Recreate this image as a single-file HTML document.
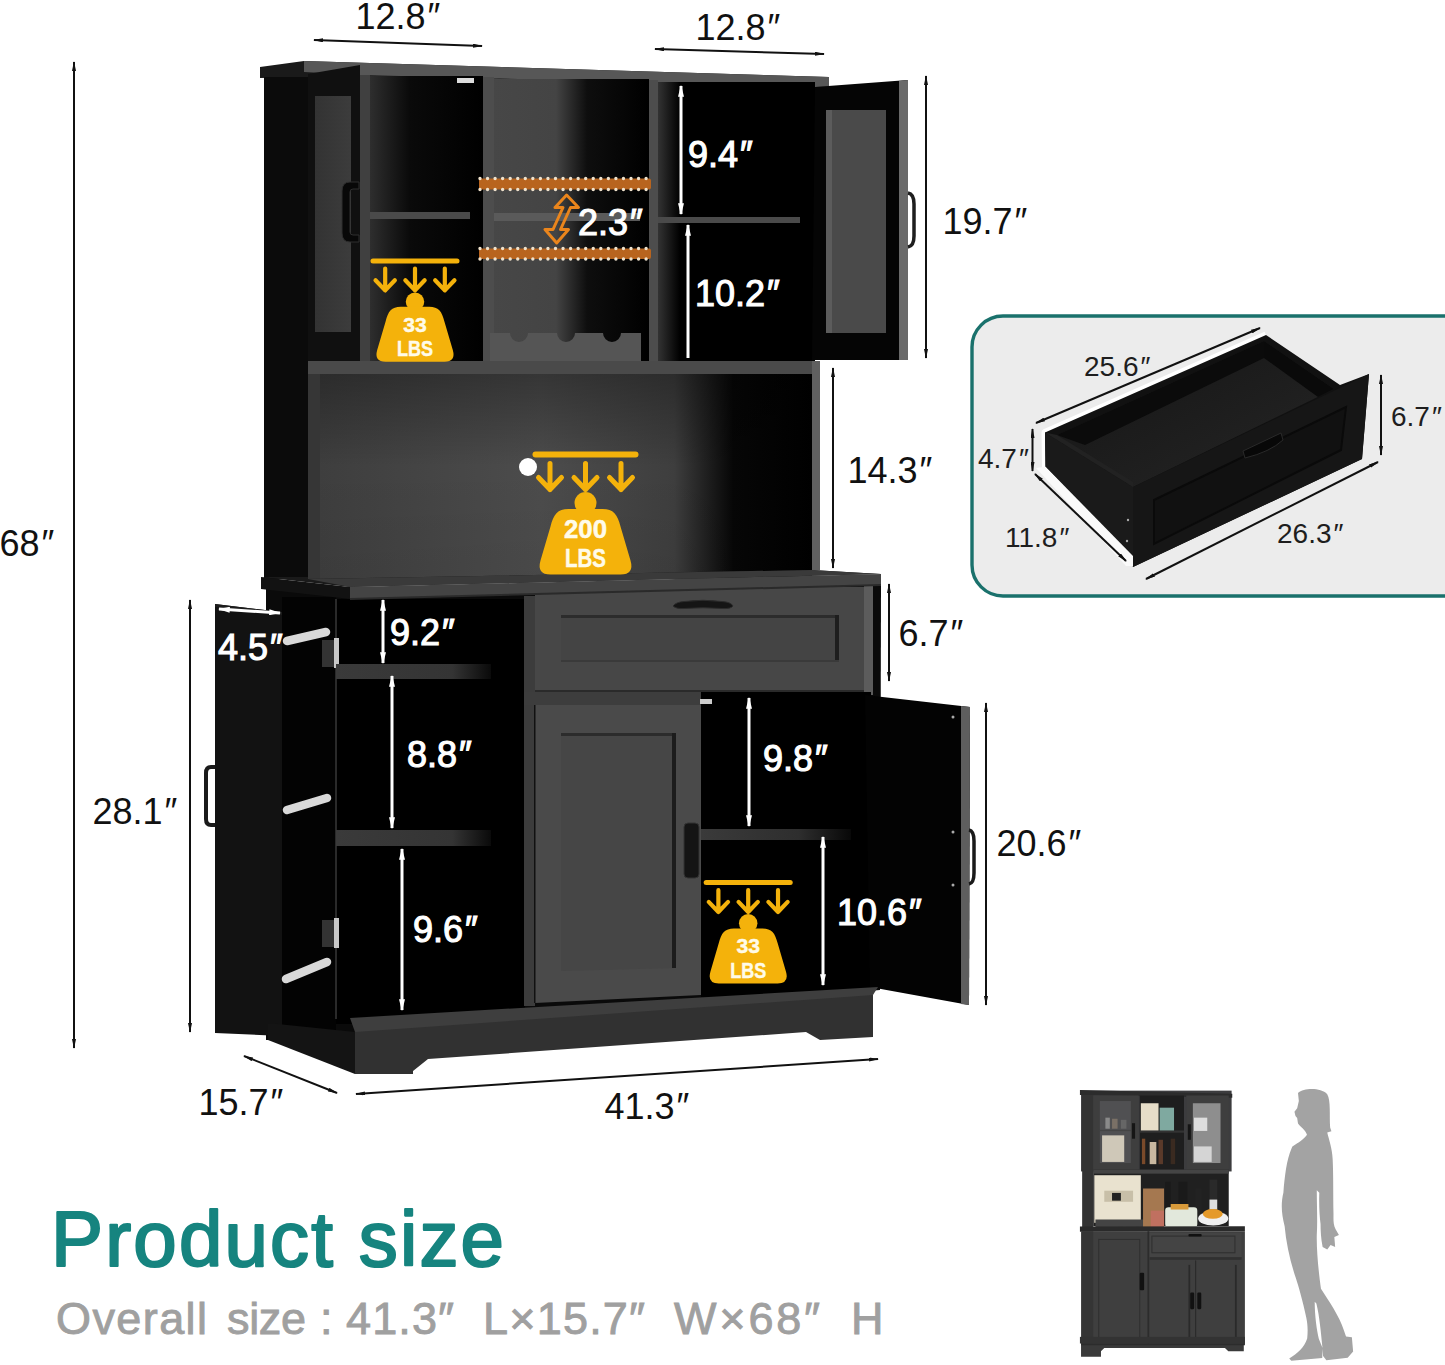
<!DOCTYPE html>
<html><head><meta charset="utf-8">
<style>
html,body{margin:0;padding:0;background:#fff;}
body{width:1445px;height:1365px;overflow:hidden;}
svg{display:block;}
text{font-family:"Liberation Sans",sans-serif;}
.dk{fill:#111;font-size:36px;}
.wt{fill:#fff;stroke:#fff;stroke-width:1.1px;font-size:36px;}
</style></head><body>
<svg width="1445" height="1365" viewBox="0 0 1445 1365">
<defs>
  <linearGradient id="gCtrV" x1="0" x2="0" y1="0" y2="1"><stop offset="0" stop-color="#000" stop-opacity="0.3"/><stop offset="0.45" stop-color="#000" stop-opacity="0"/><stop offset="1" stop-color="#000" stop-opacity="0.05"/></linearGradient>
  <linearGradient id="gCtr" x1="0" x2="1" y1="0" y2="0">
    <stop offset="0" stop-color="#3e3e3e"/><stop offset="0.45" stop-color="#4c4c4c"/><stop offset="0.72" stop-color="#3e3e3e"/><stop offset="0.84" stop-color="#060606"/><stop offset="1" stop-color="#000"/>
  </linearGradient>
  <linearGradient id="gIntL" x1="0" x2="1" y1="0" y2="0">
    <stop offset="0" stop-color="#2e2e2e"/><stop offset="0.35" stop-color="#0a0a0a"/><stop offset="1" stop-color="#000"/>
  </linearGradient>
  <linearGradient id="gIntC" x1="0" x2="1" y1="0" y2="0">
    <stop offset="0" stop-color="#474747"/><stop offset="0.4" stop-color="#444"/><stop offset="0.6" stop-color="#0e0e0e"/><stop offset="1" stop-color="#000"/>
  </linearGradient>
  <linearGradient id="gWallR" x1="0" x2="1" y1="0" y2="0"><stop offset="0" stop-color="#333"/><stop offset="1" stop-color="#000"/></linearGradient>
  <linearGradient id="gGlass" x1="0" x2="1" y1="0" y2="0">
    <stop offset="0" stop-color="#333"/><stop offset="1" stop-color="#3c3c3c"/>
  </linearGradient>
  <marker id="ab" viewBox="0 0 10 4" refX="9" refY="2" markerWidth="5" markerHeight="2" orient="auto-start-reverse">
    <path d="M0,0 L10,2 L0,4 z" fill="#111"/>
  </marker>
  <marker id="aw" viewBox="0 0 10 5" refX="9" refY="2.5" markerWidth="4" markerHeight="2" orient="auto-start-reverse">
    <path d="M0,0 L10,2.5 L0,5 z" fill="#fff"/>
  </marker>
</defs>

<!-- ============ HUTCH ============ -->
<g id="hutch">
  <!-- cap & top -->
  <polygon points="260,67 304,61 829,77 829,87 370,76 260,78" fill="#1a1a1a"/>
  <polygon points="304,61 829,77 829,87 360,75 304,72" fill="#575757"/>
  <!-- left side panel -->
  <rect x="264" y="77" width="45" height="502" fill="#0b0b0b"/>
  <!-- left open door -->
  <polygon points="308,74 360,65 360,361 308,361" fill="#101010"/>
  <rect x="315" y="96" width="36" height="236" fill="url(#gGlass)"/>
  <path d="M359,182 h-9 q-8,0 -8,9 v42 q0,9 8,9 h9 v-7 h-6 q-3,0 -3,-3 v-40 q0,-3 3,-3 h6 z" fill="#080808" stroke="#2e2e2e" stroke-width="1"/>
  <!-- left post -->
  <rect x="360" y="75" width="10" height="286" fill="#404040"/>
  <!-- left compartment -->
  <rect x="370" y="76" width="113" height="285" fill="url(#gIntL)"/>
  <rect x="370" y="212" width="100" height="7" fill="#4a4a4a"/>
  <rect x="457" y="78" width="17" height="5" fill="#ddd"/>
  <!-- center divider -->
  <rect x="483" y="77" width="11" height="284" fill="#4d4d4d"/>
  <!-- center compartment -->
  <rect x="494" y="79" width="155" height="282" fill="url(#gIntC)"/>
  <rect x="494" y="213" width="146" height="8" fill="#5a5a5a"/>
  <!-- wine rack -->
  <path d="M490,333 H641 V361 H490 Z M510,333 a9,9 0 0 0 18,0 Z M557,333 a9,9 0 0 0 18,0 Z M603,333 a9,9 0 0 0 18,0 Z" fill="#555" fill-rule="evenodd"/>
  <!-- right divider -->
  <rect x="649" y="80" width="9" height="281" fill="#4d4d4d"/>
  <!-- right compartment -->
  <rect x="658" y="82" width="157" height="279" fill="#000"/>
  <rect x="658" y="82" width="22" height="279" fill="url(#gWallR)"/>
  <rect x="658" y="217" width="142" height="6" fill="#4a4a4a"/>
  <!-- right open door -->
  <polygon points="815,87 908,80 908,360 812,360" fill="#050505"/>
  <rect x="826" y="110" width="60" height="223" fill="#4a4a4a"/>
  <rect x="826" y="110" width="6" height="223" fill="#5c5c5c"/>
  <polygon points="899,81 908,80 908,360 899,360" fill="#6a6a6a"/>
  <path d="M908,193 q6,1 6,11 v32 q0,10 -6,11" fill="none" stroke="#1e1e1e" stroke-width="3.5"/>
</g>

<!-- ============ MIDDLE ============ -->
<g id="middle">
  <rect x="308" y="361" width="45" height="218" fill="#151515"/>
  <rect x="308" y="361" width="504" height="13" fill="#4a4a4a"/>
  <rect x="308" y="374" width="12" height="205" fill="#363636"/>
  <rect x="320" y="374" width="492" height="205" fill="url(#gCtr)"/>
  <rect x="320" y="374" width="492" height="205" fill="url(#gCtrV)"/>
  <rect x="812" y="361" width="8" height="209" fill="#606060"/>
  <circle cx="528" cy="467" r="9" fill="#fff"/>
</g>

<!-- ============ BASE ============ -->
<g id="base">
  <polygon points="266,589 881,585 880,990 355,1034 268,1040 266,1040" fill="#0a0a0a"/>
  <!-- dark base side behind door -->
  <polygon points="266,589 350,599 335,1040 266,1040" fill="#0a0a0a"/>
  <!-- left open door (side face) -->
  <polygon points="215,604 282,612 282,1036 215,1033" fill="#121212"/>
  <polygon points="215,604 282,612 282,615 215,607" fill="#1c1c1c"/>
  <path d="M215,767 h-4 q-5,0 -5,6 v46 q0,6 5,6 h4" fill="none" stroke="#1a1a1a" stroke-width="4"/>
  <!-- door inner side -->
  <polygon points="282,597 336,597 336,1040 282,1036" fill="#030303"/>
  <!-- base side below -->
  <polygon points="268,1023 355,1032 355,1074 268,1040" fill="#141414"/>
  <!-- rods -->
  <defs>
    <linearGradient id="gRod" x1="0" x2="0" y1="0" y2="1"><stop offset="0" stop-color="#f0f0f0"/><stop offset="1" stop-color="#bdbdbd"/></linearGradient>
  </defs>
  <line x1="287" y1="641" x2="326" y2="632" stroke="#d9d9d9" stroke-width="8.5" stroke-linecap="round"/>
  <line x1="287" y1="810" x2="327" y2="798" stroke="#d9d9d9" stroke-width="8.5" stroke-linecap="round"/>
  <line x1="286" y1="979" x2="327" y2="962" stroke="#d9d9d9" stroke-width="8.5" stroke-linecap="round"/>
  <!-- left compartment -->
  <rect x="336" y="599" width="189" height="425" fill="#000"/>
  <rect x="335" y="599" width="2" height="420" fill="#2a2a2a"/>
  <rect x="322" y="640" width="12" height="27" fill="#333"/>
  <rect x="334" y="638" width="5" height="30" fill="#c8c8c8"/>
  <rect x="322" y="920" width="12" height="27" fill="#333"/>
  <rect x="334" y="918" width="5" height="30" fill="#c8c8c8"/>
  <defs>
    <linearGradient id="gShelf" x1="0" x2="1" y1="0" y2="0"><stop offset="0" stop-color="#3a3a3a"/><stop offset="0.75" stop-color="#343434"/><stop offset="1" stop-color="#0a0a0a"/></linearGradient>
  </defs>
  <rect x="336" y="664" width="155" height="15" fill="url(#gShelf)"/>
  <rect x="336" y="830" width="155" height="16" fill="url(#gShelf)"/>
  <rect x="483" y="591" width="17" height="5" fill="#ccc"/>
  <!-- frame -->
  <rect x="524" y="596" width="11" height="410" fill="#3c3c3c"/>
  <rect x="524" y="692" width="346" height="13" fill="#3d3d3d"/>
  <rect x="864" y="585" width="9" height="110" fill="#5c5c5c"/>
  <!-- drawer -->
  <rect x="535" y="587" width="329" height="105" fill="#474747"/>
  <rect x="561" y="615" width="278" height="47" fill="#444"/>
  <rect x="561" y="615" width="278" height="3" fill="#2c2c2c"/>
  <rect x="835" y="615" width="4" height="45" fill="#1e1e1e"/>
  <rect x="561" y="660" width="278" height="2" fill="#3a3a3a"/>
  <rect x="535" y="690" width="329" height="2" fill="#2a2a2a"/>
  <path d="M673,606 Q676,602 684,601.5 Q703,599 722,601.5 Q731,602 733,606 Q731,609 722,608.5 Q703,607 684,608.5 Q676,609 673,606 Z" fill="#151515" stroke="#2c2c2c" stroke-width="1"/>
  <!-- door -->
  <polygon points="535,705 701,705 701,995 535,1003" fill="#4a4a4a"/>
  <polygon points="561,733 676,733 676,968 561,971" fill="#464646"/>
  <rect x="561" y="733" width="115" height="3" fill="#2c2c2c"/>
  <rect x="672" y="733" width="4" height="235" fill="#1c1c1c"/>
  <rect x="534" y="705" width="1.5" height="298" fill="#111"/>
  <rect x="684" y="823" width="15" height="55" rx="4" fill="#141414" stroke="#333" stroke-width="1"/>
  <!-- right compartment -->
  <rect x="701" y="692" width="170" height="305" fill="#000"/>
  <defs>
    <linearGradient id="gShelfR" x1="0" x2="1" y1="0" y2="0"><stop offset="0" stop-color="#3a3a3a"/><stop offset="0.65" stop-color="#2e2e2e"/><stop offset="1" stop-color="#080808"/></linearGradient>
  </defs>
  <rect x="701" y="829" width="150" height="11" fill="url(#gShelfR)"/>
  <rect x="700" y="699" width="12" height="5" fill="#ccc"/>
  <!-- right open door -->
  <polygon points="865,695 970,707 969,1005 870,987" fill="#030303"/>
  <polygon points="961,706 970,707 969,1005 961,1004" fill="#5e5e5e"/>
  <circle cx="953" cy="717" r="1.5" fill="#aaa"/>
  <circle cx="953" cy="832" r="1.5" fill="#aaa"/>
  <circle cx="953" cy="885" r="1.5" fill="#aaa"/>
  <path d="M969,830 q5,1 5,11 v32 q0,10 -5,11" fill="none" stroke="#1a1a1a" stroke-width="3.5"/>
  <!-- plinth -->
  <polygon points="355,1029 873,992 873,1037 820,1040 806,1032 428,1059 413,1071 413,1074 355,1074" fill="#313131"/>
  <polygon points="350,1018 878,987 873,995 355,1032" fill="#3e3e3e"/>
  
</g>


<!-- ============ COUNTER TOP ============ -->
<polygon points="261,577 308,577 308,579 812,570 881,574 350,587" fill="#1a1a1a"/>
<polygon points="308,579 812,570 881,574 350,587" fill="#3a3a3a"/>
<polygon points="261,577 350,587 350,599 261,589" fill="#121212"/>
<polygon points="350,587 881,574 881,585 350,599" fill="#444"/>
<polygon points="350,598 881,584 881,586 350,600" fill="#2a2a2a"/>

<!-- ============ WEIGHT ICONS ============ -->
<defs>
  <g id="wIcon">
    <line x1="-50" y1="0" x2="50" y2="0" stroke="#f4b20b" stroke-width="6" stroke-linecap="round"/>
    <g stroke="#f4b20b" stroke-width="5" fill="none" stroke-linecap="round" stroke-linejoin="round">
      <path d="M-35.5,9 V35 M-47,23 L-35.5,35 L-24,23"/>
      <path d="M0,9 V35 M-11.5,23 L0,35 L11.5,23"/>
      <path d="M35.5,9 V35 M24,23 L35.5,35 L47,23"/>
    </g>
    <circle cx="0" cy="48.5" r="11" fill="#f4b20b"/>
    <path d="M-17,54.5 H17 C28,54.5 32,60 35,72 L45,106 Q49,120 35,120 H-35 Q-49,120 -45,106 L-35,72 C-32,60 -28,54.5 -17,54.5 Z" fill="#f4b20b"/>
  </g>
</defs>
<g transform="translate(585.5,454.5)">
  <use href="#wIcon"/>
  <text x="-21.5" y="83.5" fill="#fffbe8" stroke="#fffbe8" stroke-width="0.5" font-size="25" font-weight="bold" textLength="43" lengthAdjust="spacingAndGlyphs">200</text>
  <text x="-20.5" y="112.5" fill="#fffbe8" stroke="#fffbe8" stroke-width="0.5" font-size="26" font-weight="bold" textLength="41" lengthAdjust="spacingAndGlyphs">LBS</text>
</g>
<g transform="translate(415,261) scale(0.84)">
  <use href="#wIcon"/>
  <text x="-14" y="84" fill="#fffbe8" stroke="#fffbe8" stroke-width="0.5" font-size="25" font-weight="bold" textLength="28" lengthAdjust="spacingAndGlyphs">33</text>
  <text x="-21.5" y="113" fill="#fffbe8" stroke="#fffbe8" stroke-width="0.5" font-size="26" font-weight="bold" textLength="43" lengthAdjust="spacingAndGlyphs">LBS</text>
</g>
<g transform="translate(748.2,882.6) scale(0.84)">
  <use href="#wIcon"/>
  <text x="-14" y="84" fill="#fffbe8" stroke="#fffbe8" stroke-width="0.5" font-size="25" font-weight="bold" textLength="28" lengthAdjust="spacingAndGlyphs">33</text>
  <text x="-21.5" y="113" fill="#fffbe8" stroke="#fffbe8" stroke-width="0.5" font-size="26" font-weight="bold" textLength="43" lengthAdjust="spacingAndGlyphs">LBS</text>
</g>

<!-- ============ ORANGE PEGS ============ -->
<g>
  <rect x="479" y="178.5" width="172" height="11" rx="2" fill="#b8641e"/>
  <rect x="479" y="248.5" width="172" height="10.5" rx="2" fill="#b8641e"/>
  <g stroke="#f0e2cc" stroke-width="3.4" stroke-linecap="round" stroke-dasharray="0 7.55">
    <line x1="480" y1="178.5" x2="651" y2="178.5"/>
    <line x1="480" y1="189.5" x2="651" y2="189.5"/>
    <line x1="480" y1="248.5" x2="651" y2="248.5"/>
    <line x1="480" y1="259" x2="651" y2="259"/>
  </g>
  <g fill="none" stroke="#ea851c" stroke-width="3" stroke-linejoin="round">
    <path d="M566.6,195 L578.5,207.5 L570.5,207.5 L560.5,229.5 L568.5,229.5 L556.7,243 L545,229.5 L553,229.5 L563,207.5 L555,207.5 Z"/>
  </g>
</g>

<!-- ============ WHITE DIMENSIONS INSIDE ============ -->
<g stroke="#fff" stroke-width="3" fill="none">
  <line x1="681" y1="86" x2="681" y2="214" marker-start="url(#aw)" marker-end="url(#aw)"/>
  <line x1="688" y1="225" x2="688" y2="358" marker-start="url(#aw)"/>
  <line x1="383" y1="600" x2="383" y2="663" marker-start="url(#aw)" marker-end="url(#aw)"/>
  <line x1="392" y1="676" x2="392" y2="828" marker-start="url(#aw)" marker-end="url(#aw)"/>
  <line x1="402" y1="849" x2="402" y2="1010" marker-start="url(#aw)" marker-end="url(#aw)"/>
  <line x1="749" y1="698" x2="749" y2="826" marker-start="url(#aw)" marker-end="url(#aw)"/>
  <line x1="823" y1="837" x2="823" y2="985" marker-start="url(#aw)" marker-end="url(#aw)"/>
  <line x1="219" y1="609" x2="280" y2="613" marker-start="url(#aw)" marker-end="url(#aw)"/>
</g>
<g class="wt" transform="translate(-2,0)">
  <text x="690" y="167">9.4<tspan dx="2">″</tspan></text>
  <text x="697" y="306">10.2<tspan dx="2">″</tspan></text>
  <text x="580" y="235">2.3<tspan dx="2">″</tspan></text>
  <text x="220" y="660">4.5<tspan dx="2">″</tspan></text>
  <text x="392" y="645">9.2<tspan dx="2">″</tspan></text>
  <text x="409" y="767">8.8<tspan dx="2">″</tspan></text>
  <text x="415" y="942">9.6<tspan dx="2">″</tspan></text>
  <text x="765" y="771">9.8<tspan dx="2">″</tspan></text>
  <text x="839" y="925">10.6<tspan dx="2">″</tspan></text>
</g>

<!-- ============ BLACK DIMENSIONS ============ -->
<g stroke="#111" stroke-width="2" fill="none">
  <line x1="74" y1="62" x2="74" y2="1048" marker-start="url(#ab)" marker-end="url(#ab)"/>
  <line x1="190" y1="600" x2="190" y2="1032" marker-start="url(#ab)" marker-end="url(#ab)"/>
  <line x1="314" y1="40" x2="482" y2="46" marker-start="url(#ab)" marker-end="url(#ab)"/>
  <line x1="655" y1="49" x2="824" y2="54" marker-start="url(#ab)" marker-end="url(#ab)"/>
  <line x1="926" y1="76" x2="926" y2="358" marker-start="url(#ab)" marker-end="url(#ab)"/>
  <line x1="833" y1="368" x2="833" y2="568" marker-start="url(#ab)" marker-end="url(#ab)"/>
  <line x1="889" y1="584" x2="889" y2="681" marker-start="url(#ab)" marker-end="url(#ab)"/>
  <line x1="986" y1="703" x2="986" y2="1005" marker-start="url(#ab)" marker-end="url(#ab)"/>
  <line x1="244" y1="1056" x2="337" y2="1093" marker-start="url(#ab)" marker-end="url(#ab)"/>
  <line x1="356" y1="1094" x2="878" y2="1059" marker-start="url(#ab)" marker-end="url(#ab)"/>
</g>
<g class="dk" transform="translate(-2.5,1)">
  <text x="2" y="555">68<tspan dx="2">″</tspan></text>
  <text x="95" y="823">28.1<tspan dx="2">″</tspan></text>
  <text x="358" y="28">12.8<tspan dx="2">″</tspan></text>
  <text x="698" y="39">12.8<tspan dx="2">″</tspan></text>
  <text x="945" y="233">19.7<tspan dx="2">″</tspan></text>
  <text x="850" y="482">14.3<tspan dx="2">″</tspan></text>
  <text x="901" y="645">6.7<tspan dx="2">″</tspan></text>
  <text x="999" y="855">20.6<tspan dx="2">″</tspan></text>
  <text x="201" y="1114">15.7<tspan dx="2">″</tspan></text>
  <text x="607" y="1118">41.3<tspan dx="2">″</tspan></text>
</g>

<!-- ============ DRAWER BOX ============ -->
<g id="drawerbox">
  <rect x="972" y="316" width="520" height="280" rx="31" fill="#ececec" stroke="#1a716c" stroke-width="3.4"/>
  <!-- halo -->
  <polyline points="1129,560 1045.5,466.7 1045,432.5 1266,335" fill="none" stroke="#fff" stroke-width="7" stroke-linejoin="round"/>
  <!-- outer body -->
  <polygon points="1045,432.5 1266,335 1340,385 1369,374 1362,459 1133,567 1129,556 1045.5,466.7" fill="#111"/>
  <!-- interior floor -->
  <defs>
    <linearGradient id="gFloor" x1="0" x2="1" y1="0" y2="1"><stop offset="0" stop-color="#141414"/><stop offset="1" stop-color="#262626"/></linearGradient>
  </defs>
  <polygon points="1057,435 1264,341 1334,389 1133,487" fill="url(#gFloor)"/>
  <polygon points="1057,435 1264,341 1264,358 1085,445" fill="#0b0b0b"/>
  <polygon points="1264,341 1334,389 1318,397 1264,358" fill="#0a0a0a"/>
  <!-- left side face -->
  <polygon points="1045,432.5 1133,487 1133,556 1045.5,466.7" fill="#1a1a1a"/>
  <polygon points="1045,432.5 1057,435 1133,482 1133,487" fill="#222"/>
  <!-- runner -->
  <polygon points="1036,468 1045.5,466.7 1133,556 1133,566 1126,566" fill="#fafafa"/>
  <!-- front panel -->
  <polygon points="1133,487 1369,374 1362,459 1133,567" fill="#161616"/>
  <polygon points="1154,500 1346,407 1341,450 1154,544" fill="#111" stroke="#0a0a0a" stroke-width="2"/>
  <path d="M1243,451 L1281,433 L1283,440 Q1270,452 1245,458 Z" fill="#080808" stroke="#2a2a2a" stroke-width="1"/>
  <circle cx="1128" cy="520" r="1.2" fill="#aaa"/>
  <circle cx="1127" cy="541" r="1.2" fill="#aaa"/>
  <!-- dims -->
  <g stroke="#111" stroke-width="2" fill="none">
    <line x1="1036" y1="423" x2="1260" y2="328" marker-start="url(#ab)" marker-end="url(#ab)"/>
    <line x1="1032.5" y1="429" x2="1032.5" y2="471" marker-start="url(#ab)" marker-end="url(#ab)"/>
    <line x1="1035" y1="474" x2="1126" y2="561" marker-start="url(#ab)" marker-end="url(#ab)"/>
    <line x1="1146" y1="579" x2="1378" y2="462" marker-start="url(#ab)" marker-end="url(#ab)"/>
    <line x1="1381" y1="375" x2="1381" y2="455" marker-start="url(#ab)" marker-end="url(#ab)"/>
  </g>
  <g fill="#1e1e1e" font-size="28">
    <text x="1084" y="376">25.6<tspan dx="2">″</tspan></text>
    <text x="978" y="468">4.7<tspan dx="2">″</tspan></text>
    <text x="1391" y="426">6.7<tspan dx="2">″</tspan></text>
    <text x="1005" y="547">11.8<tspan dx="2">″</tspan></text>
    <text x="1277" y="543">26.3<tspan dx="2">″</tspan></text>
  </g>
</g>

<!-- ============ THUMBNAIL ============ -->
<g transform="translate(1060,1080) scale(0.22143)">
  <!-- body -->
  <rect x="95" y="48" width="680" height="365" fill="#3c3c3e"/>
  <polygon points="90,45 778,62 778,80 90,68" fill="#2c2c2c"/>
  <rect x="100" y="68" width="50" height="600" fill="#333"/>
  <!-- left glass door -->
  <rect x="150" y="70" width="205" height="335" fill="#3e3e3e"/>
  <rect x="180" y="95" width="140" height="280" fill="#505052"/>
  <rect x="205" y="170" width="20" height="50" fill="#8a8a8a"/>
  <rect x="235" y="175" width="25" height="45" fill="#7a7066"/>
  <rect x="275" y="180" width="25" height="40" fill="#666"/>
  <rect x="180" y="225" width="140" height="6" fill="#444"/>
  <rect x="190" y="250" width="100" height="120" fill="#cfc8b8"/>
  <rect x="325" y="195" width="14" height="70" fill="#151515"/>
  <!-- center -->
  <rect x="360" y="70" width="200" height="335" fill="#1e1e1e"/>
  <rect x="365" y="105" width="80" height="125" fill="#e6ddc8"/>
  <rect x="450" y="125" width="65" height="105" fill="#7fa9a0"/>
  <rect x="360" y="228" width="200" height="10" fill="#333"/>
  <rect x="370" y="265" width="15" height="115" fill="#7a4a2a"/>
  <rect x="405" y="280" width="30" height="100" fill="#c9b8a0"/>
  <rect x="445" y="270" width="20" height="110" fill="#5a3a2a"/>
  <rect x="500" y="265" width="20" height="115" fill="#3a2a20"/>
  <!-- right glass door -->
  <rect x="570" y="70" width="192" height="335" fill="#3e3e3e"/>
  <rect x="600" y="105" width="125" height="270" fill="#8e8e8e"/>
  <rect x="605" y="170" width="60" height="60" fill="#dedede"/>
  <rect x="605" y="300" width="80" height="70" fill="#d5d5d5"/>
  <rect x="577" y="200" width="14" height="70" fill="#151515"/>
  <!-- middle section -->
  <rect x="150" y="405" width="612" height="255" fill="#202020"/>
  <rect x="150" y="405" width="612" height="18" fill="#444"/>
  <rect x="155" y="430" width="210" height="215" fill="#e9e2cf"/>
  <rect x="200" y="500" width="130" height="50" fill="#c8bfa8"/>
  <rect x="235" y="510" width="40" height="35" fill="#222"/>
  <rect x="160" y="630" width="230" height="40" fill="#444"/>
  <rect x="375" y="490" width="95" height="175" fill="#a57850"/>
  <rect x="410" y="590" width="60" height="75" fill="#c07060"/>
  <rect x="475" y="460" width="25" height="120" fill="#1a1a1a"/>
  <rect x="535" y="460" width="40" height="120" fill="#1a1a1a"/>
  <rect x="610" y="490" width="30" height="110" fill="#222"/>
  <rect x="675" y="450" width="35" height="140" fill="#2a2a2a"/>
  <rect x="675" y="540" width="35" height="45" fill="#ddd"/>
  <rect x="475" y="575" width="145" height="90" rx="15" fill="#e2e8dc"/>
  <rect x="500" y="560" width="80" height="25" fill="#d89a3a"/>
  <ellipse cx="692" cy="625" rx="68" ry="32" fill="#f0f0f0"/>
  <ellipse cx="690" cy="605" rx="45" ry="22" fill="#e59a2a"/>
  <!-- counter -->
  <polygon points="90,662 835,660 835,683 90,685" fill="#2a2a2a"/>
  <!-- base -->
  <rect x="95" y="683" width="740" height="510" fill="#3f3f3f"/>
  <rect x="100" y="683" width="50" height="510" fill="#353535"/>
  <rect x="175" y="720" width="185" height="465" fill="none" stroke="#303030" stroke-width="5"/>
  <rect x="395" y="683" width="8" height="510" fill="#2c2c2c"/>
  <rect x="405" y="690" width="415" height="110" fill="#444"/>
  <rect x="415" y="705" width="375" height="75" fill="none" stroke="#303030" stroke-width="5"/>
  <rect x="405" y="800" width="415" height="12" fill="#303030"/>
  <rect x="610" y="815" width="5" height="370" fill="#2a2a2a"/>
  <rect x="580" y="835" width="8" height="340" fill="#2a2a2a"/>
  <rect x="790" y="835" width="8" height="340" fill="#2a2a2a"/>
  <rect x="360" y="870" width="20" height="80" rx="5" fill="#111"/>
  <rect x="588" y="960" width="18" height="75" rx="5" fill="#111"/>
  <rect x="620" y="960" width="18" height="75" rx="5" fill="#111"/>
  <rect x="580" y="695" width="60" height="12" rx="5" fill="#111"/>
  <rect x="90" y="1160" width="745" height="30" fill="#333"/>
  <path d="M95,1190 H830 V1225 L760,1225 L745,1210 H200 L185,1225 L185,1250 H95 Z" fill="#3a3a3a"/>
  <rect x="95" y="1190" width="740" height="8" fill="#2c2c2c"/>
</g>

<!-- ============ PERSON ============ -->
<path transform="translate(1260,1080) scale(0.2088)" fill="#a3a3a3" d="M182,62 C210,38 290,35 322,68 C340,100 332,170 336,228 L342,246 L322,252 C330,285 346,330 348,380 C352,460 350,560 352,640 C352,670 350,690 362,715 L378,742 L356,752 L360,800 L338,790 L322,812 L300,800 C292,760 290,720 290,690 C285,650 282,600 284,540 L272,528 C272,600 276,680 272,740 C270,820 282,930 292,1000 C330,1060 380,1130 402,1200 L412,1228 L440,1232 L446,1300 L420,1330 L318,1342 L302,1322 L300,1290 C292,1210 285,1130 270,1070 L262,1062 C262,1130 272,1200 282,1240 L300,1285 L298,1332 L150,1345 L140,1334 C180,1310 212,1280 226,1238 C230,1200 228,1170 222,1140 C205,1060 185,990 172,950 C145,870 125,780 118,700 C102,640 100,590 112,540 C118,460 128,380 150,330 L155,318 C185,300 212,282 225,262 C218,238 190,222 182,208 L178,182 L170,172 L165,152 L178,135 L186,100 Z"/>

<!-- ============ TITLE ============ -->
<text x="51" y="1266" fill="#16847f" stroke="#16847f" stroke-width="2.2" stroke-linejoin="round" font-size="78" textLength="453" lengthAdjust="spacing">Product size</text>
<g fill="#a0a0a0" stroke="#a0a0a0" stroke-width="0.9" font-size="45">
  <text x="56" y="1334" textLength="151">Overall</text>
  <text x="227" y="1334" textLength="79">size</text>
  <text x="320" y="1334">:</text>
  <text x="346" y="1334" textLength="108">41.3″</text>
  <text x="483" y="1334" textLength="162">L×15.7″</text>
  <text x="674" y="1334" textLength="146">W×68″</text>
  <text x="851" y="1334">H</text>
</g>

</svg>
</body></html>
